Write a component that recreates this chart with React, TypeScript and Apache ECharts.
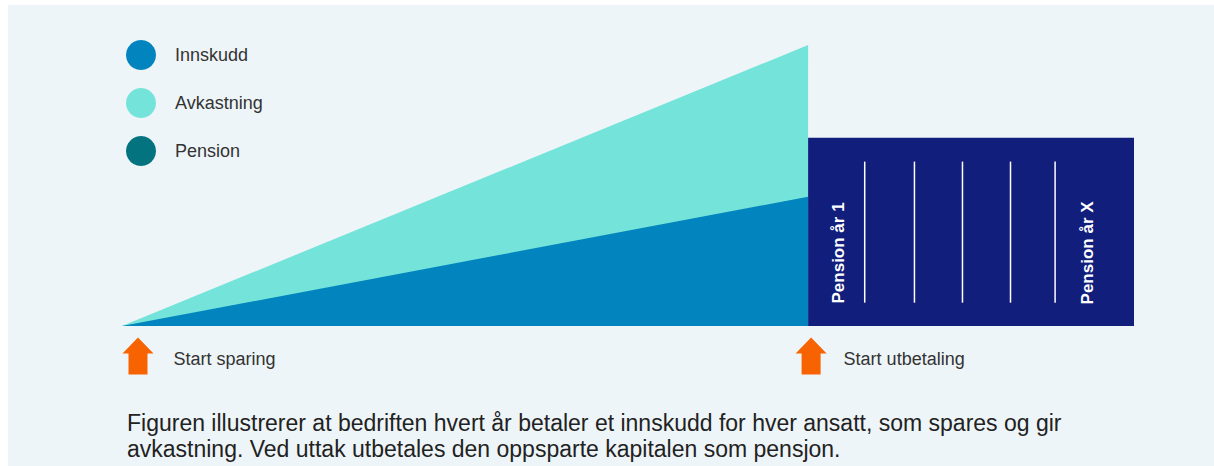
import React, { useEffect, useRef } from "react";
import * as echarts from "echarts";

// Data (years on the x axis, relative capital on the y axis)
const seriesNames = ["Innskudd", "Avkastning", "Pension"];
const savingYears = [0, 40];
const innskuddValues = [0, 46];
const avkastningValues = [0, 54];
const payoutYears = [40, 59];
const pensionValues = [67, 67];
const dividerYears = [43.3, 46.2, 49.0, 51.8, 54.4];
const dividerRange = [8.3, 58.5];
const pensionLabels = ["Pension år 1", "Pension år X"];
const pensionLabelYears = [41.8, 56.3];
const pensionLabelLevel = 26;
const milestoneLabels = ["Start sparing", "Start utbetaling"];
const milestoneYears = [0, 40];
const caption = [
  "Figuren illustrerer at bedriften hvert år betaler et innskudd for hver ansatt, som spares og gir",
  "avkastning. Ved uttak utbetales den oppsparte kapitalen som pensjon.",
];

const FONT = "'Liberation Sans', Arial, Helvetica, sans-serif";
const C_INN = "#0284BE";
const C_AVK = "#74E3D9";
const C_PEN_LEGEND = "#03737F";
const C_PEN_BLOCK = "#111E7C";
const C_ORANGE = "#F76300";
const C_BG = "#EEF5F8";

const arrowPath = "path://M15.5,0 L31,16 L25,16 L25,37 L6,37 L6,16 L0,16 Z";

export default function App() {
  const ref = useRef<HTMLDivElement>(null);
  useEffect(() => {
    if (!ref.current) return;
    const chart = echarts.init(ref.current, null, { renderer: "svg" });
    const milestoneOffsets = [
      [16, 30],
      [3, 30],
    ];
    const milestoneDistances = [20, 17];
    const totals = savingYears.map((x, i) => [x, innskuddValues[i] + avkastningValues[i]]);
    chart.setOption({
      animation: false,
      backgroundColor: "#ffffff",
      grid: { left: 122, right: 80, top: 45, bottom: 140 },
      xAxis: { type: "value", min: 0, max: 59, show: false },
      yAxis: { type: "value", min: 0, max: 100, show: false },
      legend: {
        left: 121,
        top: 35,
        orient: "vertical",
        icon: "circle",
        itemWidth: 30,
        itemHeight: 30,
        itemGap: 18,
        selectedMode: false,
        textStyle: { fontFamily: FONT, fontSize: 18, color: "#333333", padding: [0, 0, 0, 14] },
        data: [
          { name: seriesNames[0], itemStyle: { color: C_INN } },
          { name: seriesNames[1], itemStyle: { color: C_AVK } },
          { name: seriesNames[2], itemStyle: { color: C_PEN_LEGEND } },
        ],
      },
      graphic: [
        {
          type: "rect",
          z: -10,
          silent: true,
          shape: { x: 8, y: 5, width: 1206, height: 461 },
          style: { fill: C_BG },
        },
        {
          type: "text",
          left: 127,
          top: 410,
          silent: true,
          style: {
            text: caption.join("\n"),
            fontFamily: FONT,
            fontSize: 23,
            lineHeight: 26,
            fill: "#222222",
          },
        },
      ],
      series: [
        {
          name: seriesNames[1],
          type: "line",
          color: C_AVK,
          symbol: "none",
          lineStyle: { width: 0 },
          areaStyle: { color: C_AVK, opacity: 1 },
          data: totals,
          z: 2,
        },
        {
          name: seriesNames[0],
          type: "line",
          color: C_INN,
          symbol: "none",
          lineStyle: { width: 0 },
          areaStyle: { color: C_INN, opacity: 1 },
          data: savingYears.map((x, i) => [x, innskuddValues[i]]),
          z: 3,
          markPoint: {
            silent: true,
            symbol: arrowPath,
            symbolSize: [31, 37],
            itemStyle: { color: C_ORANGE },
            label: {
              show: true,
              position: "right",
              color: "#333333",
              fontFamily: FONT,
              fontSize: 18,
              offset: [0, 3],
            },
            data: milestoneLabels.map((name, i) => ({
              name,
              coord: [milestoneYears[i], 0],
              symbolOffset: milestoneOffsets[i],
              label: { formatter: name, distance: milestoneDistances[i] },
            })),
          },
        },
        {
          name: seriesNames[2],
          type: "line",
          color: C_PEN_BLOCK,
          symbol: "none",
          lineStyle: { width: 0 },
          areaStyle: { color: C_PEN_BLOCK, opacity: 1 },
          data: payoutYears.map((x, i) => [x, pensionValues[i]]),
          z: 3,
        },
        {
          type: "custom",
          name: "dividers",
          silent: true,
          z: 5,
          data: dividerYears.map((x) => [x, dividerRange[0], dividerRange[1]]),
          renderItem: (params: any, api: any) => {
            const p0 = api.coord([api.value(0), api.value(1)]);
            const p1 = api.coord([api.value(0), api.value(2)]);
            return {
              type: "line",
              shape: { x1: p0[0], y1: p0[1], x2: p1[0], y2: p1[1] },
              style: { stroke: "#ffffff", lineWidth: 1.5 },
            };
          },
        },
        {
          type: "custom",
          name: "pensionLabels",
          silent: true,
          z: 6,
          data: pensionLabels.map((t, i) => [pensionLabelYears[i], pensionLabelLevel, t]),
          renderItem: (params: any, api: any) => {
            const p = api.coord([api.value(0), api.value(1)]);
            return {
              type: "text",
              x: p[0],
              y: p[1],
              rotation: Math.PI / 2,
              style: {
                text: pensionLabels[params.dataIndex],
                fill: "#ffffff",
                fontFamily: FONT,
                fontWeight: "bold",
                fontSize: 17,
                align: "center",
                verticalAlign: "middle",
              },
            };
          },
        },
      ],
    });
    return () => chart.dispose();
  }, []);
  return (
    <div style={{ position: "fixed", left: 0, top: 0, width: 1214, height: 466 }}>
      <div ref={ref} style={{ width: 1214, height: 466 }} />
    </div>
  );
}
